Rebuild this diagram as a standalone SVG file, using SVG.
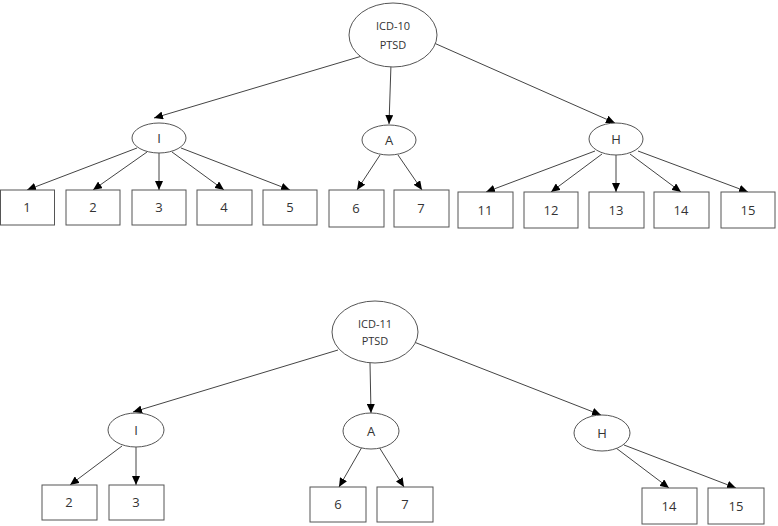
<svg xmlns="http://www.w3.org/2000/svg" width="778" height="526" viewBox="0 0 778 526">
<defs>
<marker id="ah" markerWidth="9" markerHeight="8" refX="9" refY="4" orient="auto" markerUnits="userSpaceOnUse">
<path d="M0,0 L9,4 L0,8 z" fill="#000"/>
</marker>
<style>
.n{fill:#fff;stroke:#555;stroke-width:1}
.t{font-family:"Open Sans","Liberation Sans",sans-serif;font-size:13px;fill:#333;text-anchor:middle;dominant-baseline:central}
.s{font-size:11px}
.e line{stroke:#444;stroke-width:1;marker-end:url(#ah)}
</style>
</defs>
<rect width="778" height="526" fill="#fff"/>
<g class="e" id="connectors">
<line x1="362" y1="56" x2="154" y2="118"/>
<line x1="391" y1="64" x2="389" y2="124"/>
<line x1="434" y1="43" x2="615" y2="123"/>
<line x1="137" y1="148" x2="27" y2="190"/>
<line x1="147" y1="152" x2="93" y2="190"/>
<line x1="159" y1="153" x2="159" y2="190"/>
<line x1="172" y1="152" x2="224" y2="190"/>
<line x1="181" y1="148" x2="290" y2="190"/>
<line x1="380" y1="155" x2="357" y2="190"/>
<line x1="398" y1="155" x2="422" y2="190"/>
<line x1="595" y1="151" x2="486" y2="192"/>
<line x1="602" y1="154" x2="551" y2="192"/>
<line x1="616" y1="155" x2="616" y2="192"/>
<line x1="630" y1="154" x2="681" y2="192"/>
<line x1="638" y1="151" x2="748" y2="192"/>
<line x1="338" y1="350" x2="133" y2="412"/>
<line x1="370" y1="363" x2="371" y2="413"/>
<line x1="414" y1="342" x2="601" y2="415"/>
<line x1="122" y1="446" x2="70" y2="485"/>
<line x1="136" y1="447" x2="136" y2="485"/>
<line x1="362" y1="447" x2="339" y2="487"/>
<line x1="379" y1="447" x2="404" y2="487"/>
<line x1="616" y1="448" x2="669" y2="488"/>
<line x1="624" y1="445" x2="736" y2="488"/>
</g>
<g id="root10"><ellipse class="n" cx="393" cy="35" rx="44" ry="32"/><text class="t s" x="393" y="25">ICD-10</text><text class="t s" x="393" y="44">PTSD</text></g>
<g id="I10"><ellipse class="n" cx="159" cy="138" rx="27" ry="15"/><text class="t" x="159" y="138">I</text></g>
<g id="A10"><ellipse class="n" cx="389" cy="140" rx="27" ry="15"/><text class="t" x="389" y="140">A</text></g>
<g id="H10"><ellipse class="n" cx="616" cy="139" rx="27" ry="16"/><text class="t" x="616" y="139">H</text></g>
<g id="b1"><rect class="n" x="0.5" y="190" width="54" height="35"/><text class="t" x="27" y="207">1</text></g>
<g id="b2"><rect class="n" x="66" y="190" width="54" height="35"/><text class="t" x="93" y="207">2</text></g>
<g id="b3"><rect class="n" x="132" y="190" width="54" height="35"/><text class="t" x="159" y="207">3</text></g>
<g id="b4"><rect class="n" x="197" y="190" width="55" height="35"/><text class="t" x="224" y="207">4</text></g>
<g id="b5"><rect class="n" x="263" y="190" width="54" height="35"/><text class="t" x="290" y="207">5</text></g>
<g id="b6"><rect class="n" x="329" y="190" width="55" height="37"/><text class="t" x="356" y="208">6</text></g>
<g id="b7"><rect class="n" x="394" y="190" width="55" height="37"/><text class="t" x="421" y="208">7</text></g>
<g id="b11"><rect class="n" x="458" y="192" width="55" height="36"/><text class="t" x="485" y="210">11</text></g>
<g id="b12"><rect class="n" x="524" y="192" width="54" height="36"/><text class="t" x="551" y="210">12</text></g>
<g id="b13"><rect class="n" x="589" y="192" width="55" height="36"/><text class="t" x="616" y="210">13</text></g>
<g id="b14"><rect class="n" x="654" y="192" width="55" height="36"/><text class="t" x="681" y="210">14</text></g>
<g id="b15"><rect class="n" x="721" y="192" width="54" height="36"/><text class="t" x="748" y="210">15</text></g>
<g id="root11"><ellipse class="n" cx="375" cy="332" rx="43" ry="31"/><text class="t s" x="375" y="323">ICD-11</text><text class="t s" x="375" y="340">PTSD</text></g>
<g id="I11"><ellipse class="n" cx="136" cy="430" rx="28" ry="17"/><text class="t" x="136" y="430">I</text></g>
<g id="A11"><ellipse class="n" cx="371" cy="431" rx="28" ry="18"/><text class="t" x="371" y="431">A</text></g>
<g id="H11"><ellipse class="n" cx="602" cy="433" rx="28" ry="18"/><text class="t" x="602" y="433">H</text></g>
<g id="c2"><rect class="n" x="42" y="485" width="55" height="35"/><text class="t" x="69" y="502">2</text></g>
<g id="c3"><rect class="n" x="109" y="485" width="55" height="35"/><text class="t" x="136" y="502">3</text></g>
<g id="c6"><rect class="n" x="310" y="487" width="56" height="35"/><text class="t" x="338" y="504">6</text></g>
<g id="c7"><rect class="n" x="377" y="487" width="56" height="35"/><text class="t" x="405" y="504">7</text></g>
<g id="c14"><rect class="n" x="642" y="488" width="55" height="36"/><text class="t" x="669" y="506">14</text></g>
<g id="c15"><rect class="n" x="708" y="488" width="56" height="36"/><text class="t" x="736" y="506">15</text></g>
</svg>
